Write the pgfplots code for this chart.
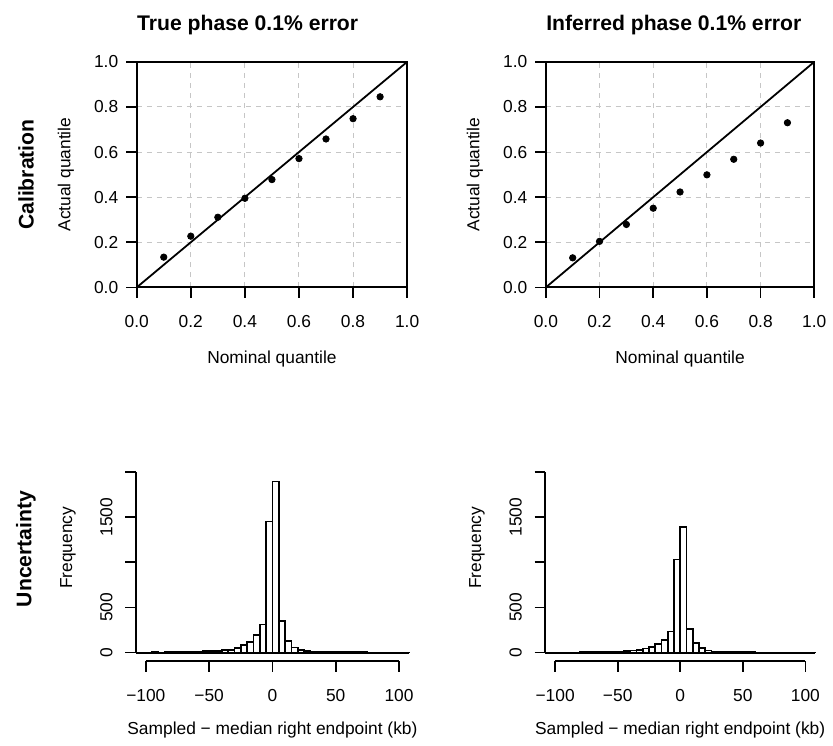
\documentclass[border=0pt]{standalone}
\usepackage{fontspec}
\setmainfont{Liberation Sans}
\usepackage{pgfplots}
\pgfplotsset{compat=1.18}

\pgfplotsset{
  rstyle/.style={
    scale only axis,
    anchor=south west,
    tick align=outside,
    major tick length=5.25pt,
    every tick/.style={black, line width=0.8pt},
    /pgf/number format/assume math mode=true,
    tick label style={font=\fontsize{8.7}{10}\selectfont},
    xtick pos=bottom, ytick pos=left,
  },
  calib/.style={
    rstyle,
    width=135.5pt, height=113pt,
    xmin=0, xmax=1, ymin=0, ymax=1,
    xtick={0,0.2,0.4,0.6,0.8,1}, ytick={0,0.2,0.4,0.6,0.8,1},
    xticklabels={0.0,0.2,0.4,0.6,0.8,1.0},
    yticklabels={0.0,0.2,0.4,0.6,0.8,1.0},
    grid=major,
    major grid style={gray!45, line width=0.5pt, dash pattern=on 2.5pt off 2.5pt},
    axis line style={line width=0.9pt},
    xticklabel style={anchor=center, yshift=-12pt},
    yticklabel style={anchor=east, xshift=-0.5pt},
  },
  hist/.style={
    rstyle,
    height=117.35pt,
    xmin=-108, xmax=108, ymin=-96, ymax=2496,
    xtick={-100,-50,0,50,100},
    xticklabels={−100,−50,0,50,100},
    ytick={0,500,1000,1500,2000},
    yticklabels={0,500,,1500,},
    axis line style={draw=none},
    clip=false,
    xticklabel style={anchor=center, yshift=-12pt},
    yticklabel style={xshift=-9.5pt, rotate=90, anchor=center},
  },
}

\begin{document}
\begin{tikzpicture}
\path (0,0) rectangle (416.5pt,373.5pt);

% ---------- Top left ----------
\begin{axis}[calib, at={(68.5pt,229.5pt)}]
\addplot[black, line width=0.9pt] coordinates {(0,0) (1,1)};
\addplot[only marks, mark=*, mark size=1.6pt, black] coordinates {
(0.1,0.134) (0.2,0.227) (0.3,0.311) (0.4,0.395) (0.5,0.478)
(0.6,0.571) (0.7,0.658) (0.8,0.748) (0.9,0.845)};
\end{axis}

% ---------- Top right ----------
\begin{axis}[calib, width=134.5pt, at={(273.5pt,229.5pt)}]
\addplot[black, line width=0.9pt] coordinates {(0,0) (1,1)};
\addplot[only marks, mark=*, mark size=1.6pt, black] coordinates {
(0.1,0.131) (0.2,0.204) (0.3,0.279) (0.4,0.351) (0.5,0.423)
(0.6,0.499) (0.7,0.568) (0.8,0.640) (0.9,0.730)};
\end{axis}

% ---------- Bottom left ----------
\begin{axis}[hist, width=137pt, at={(68pt,42.15pt)}]
\addplot[ybar interval, fill=white, draw=black, line width=0.8pt] coordinates {
(-108,3) (-105,3) (-100,3) (-95,4) (-90,3) (-85,4) (-80,5) (-75,4) (-70,5)
(-65,6) (-60,7) (-55,15) (-50,16) (-45,20) (-40,30) (-35,32) (-30,50)
(-25,85) (-20,115) (-15,195) (-10,309) (-5,1450) (0,1895) (5,350) (10,130)
(15,55) (20,30) (25,18) (30,11) (35,10) (40,7) (45,7) (50,6) (55,6) (60,5)
(65,4) (70,4) (75,2) (80,2) (85,1) (90,1) (95,1) (100,1) (105,1) (108,1)};
\draw[black, line width=1pt] (axis cs:-108,0) -- (axis cs:108,0);
\draw[line width=0.9pt] (axis cs:-100,-96) -- (axis cs:100,-96);
\draw[line width=0.9pt] (axis cs:-108,0) -- (axis cs:-108,2000);
\end{axis}

% ---------- Bottom right ----------
\begin{axis}[hist, width=135.4pt, at={(273.15pt,42.15pt)}]
\addplot[ybar interval, fill=white, draw=black, line width=0.8pt] coordinates {
(-108,2) (-105,2) (-100,3) (-95,3) (-90,3) (-85,3) (-80,4) (-75,4) (-70,5)
(-65,5) (-60,6) (-55,7) (-50,8) (-45,20) (-40,25) (-35,29) (-30,44)
(-25,65) (-20,95) (-15,142) (-10,232) (-5,1030) (0,1387) (5,260) (10,105)
(15,48) (20,22) (25,11) (30,7) (35,6) (40,5) (45,5) (50,4) (55,4) (60,3)
(65,3) (70,2) (75,2) (80,2) (85,2) (90,1) (95,1) (100,1) (105,1) (108,1)};
\draw[black, line width=1pt] (axis cs:-108,0) -- (axis cs:108,0);
\draw[line width=0.9pt] (axis cs:-100,-96) -- (axis cs:100,-96);
\draw[line width=0.9pt] (axis cs:-108,0) -- (axis cs:-108,2000);
\end{axis}

% ---------- Texts ----------
\begin{scope}[every node/.style={inner sep=0pt, font=\fontsize{10.6}{12}\selectfont\bfseries}]
\node[anchor=base west] at (68.5pt,358pt) {True phase 0.1\% error};
\node[anchor=base west] at (273.5pt,358pt) {Inferred phase 0.1\% error};
\node[rotate=90] at (13pt,286pt) {Calibration};
\node[rotate=90] at (13pt,98.5pt) {Uncertainty};
\end{scope}
\begin{scope}[every node/.style={inner sep=0pt, font=\fontsize{8.7}{10}\selectfont}]
\node[rotate=90] at (33pt,286pt) {Actual quantile};
\node[rotate=90] at (238pt,286pt) {Actual quantile};
\node at (136.25pt,193.5pt) {Nominal quantile};
\node at (340.75pt,193.5pt) {Nominal quantile};
\node[rotate=90] at (34pt,99pt) {Frequency};
\node[rotate=90] at (239pt,99pt) {Frequency};
\node at (136.5pt,7.5pt) {Sampled − median right endpoint (kb)};
\node at (340.8pt,7.5pt) {Sampled − median right endpoint (kb)};
\end{scope}
\end{tikzpicture}
\end{document}
